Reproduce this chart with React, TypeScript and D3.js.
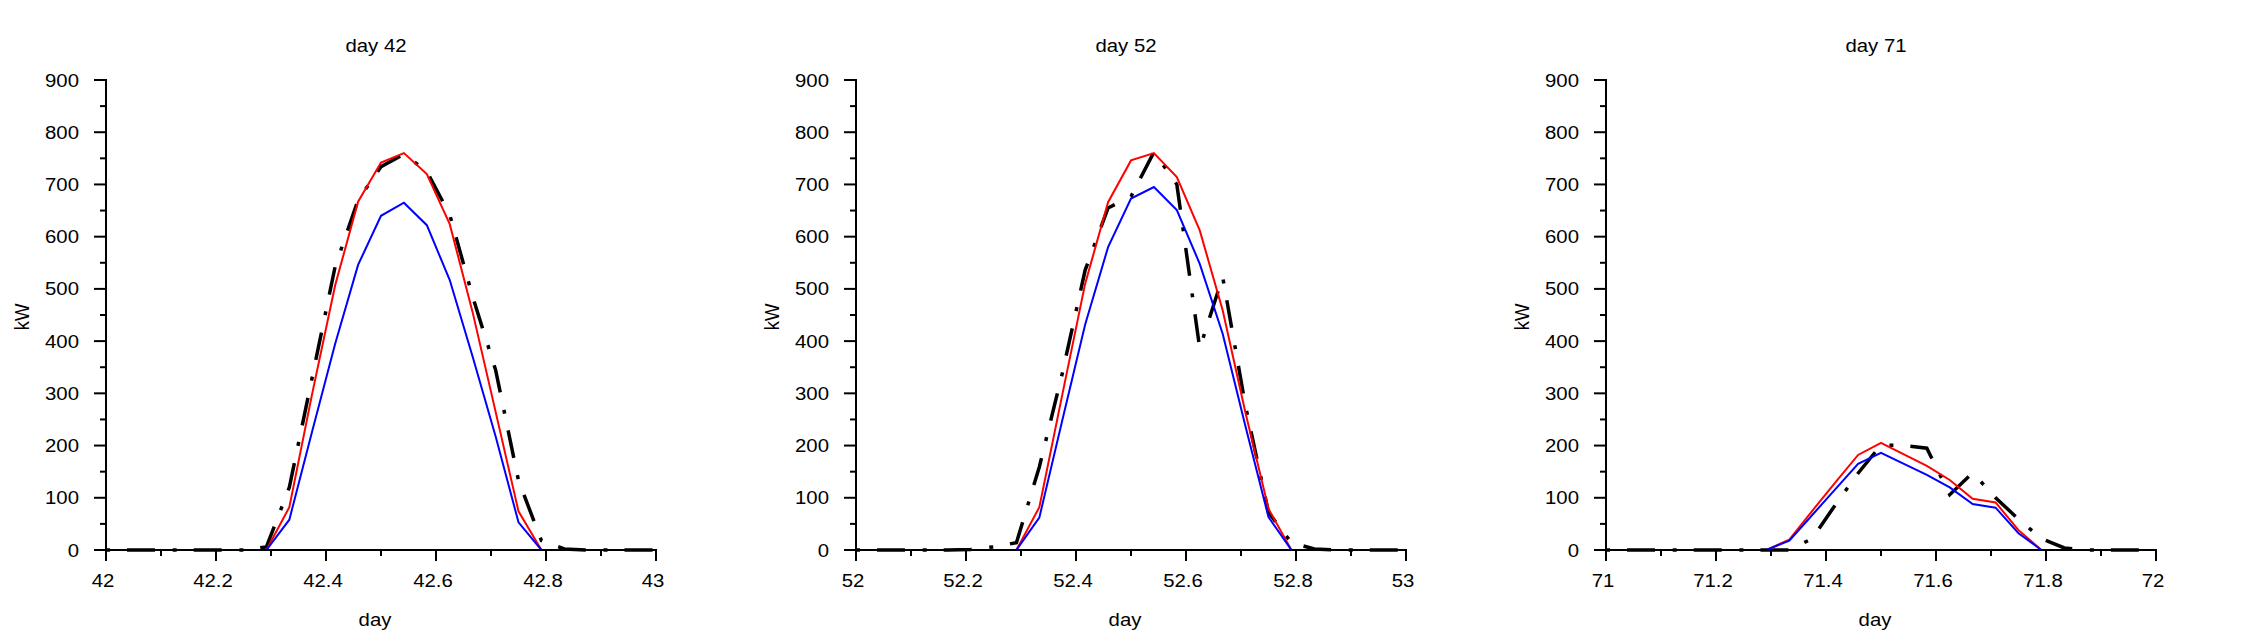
import React from "react";
import * as d3 from "d3";

// Hour of day for each sample (hourly readings, midnight to midnight)
const hourOfDay = [0, 1, 2, 3, 4, 5, 6, 7, 8, 9, 10, 11, 12, 13, 14, 15, 16, 17, 18, 19, 20, 21, 22, 23, 24];

const panelDays = [42, 52, 71];

// Day 42 power series (kW)
const measured42 = [0, 0, 0, 0, 0, 0, 0, 6, 120, 331, 543, 670, 734, 758, 725, 642, 485, 345, 133, 18, 2, 0, 0, 0, 0];
const modelA42 = [0, 0, 0, 0, 0, 0, 0, 0, 82, 300, 507, 667, 742, 760, 720, 624, 455, 265, 74, 0, 0, 0, 0, 0, 0];
const modelB42 = [0, 0, 0, 0, 0, 0, 0, 0, 58, 228, 395, 546, 640, 665, 622, 517, 370, 218, 53, 0, 0, 0, 0, 0, 0];

// Day 52 power series (kW)
const measured52 = [0, 0, 0, 0, 0, 1, 6, 14, 159, 338, 536, 655, 677, 762, 700, 386, 523, 275, 72, 14, 2, 0, 0, 0, 0];
const modelA52 = [0, 0, 0, 0, 0, 0, 0, 0, 82, 297, 510, 666, 746, 760, 714, 612, 459, 262, 79, 0, 0, 0, 0, 0, 0];
const modelB52 = [0, 0, 0, 0, 0, 0, 0, 0, 62, 248, 432, 580, 673, 695, 651, 548, 414, 236, 63, 0, 0, 0, 0, 0, 0];

// Day 71 power series (kW)
const measured71 = [0, 0, 0, 0, 0, 0, 0, 0, 0, 22, 86, 147, 201, 200, 195, 106, 148, 100, 59, 22, 4, 0, 0, 0, 0];
const modelA71 = [0, 0, 0, 0, 0, 0, 0, 0, 20, 75, 129, 182, 205, 183, 161, 134, 98, 91, 38, 0, 0, 0, 0, 0, 0];
const modelB71 = [0, 0, 0, 0, 0, 0, 0, 0, 18, 67, 116, 165, 186, 165, 144, 120, 88, 81, 32, 0, 0, 0, 0, 0, 0];

const measuredByPanel = [measured42, measured52, measured71];
const modelAByPanel = [modelA42, modelA52, modelA71];
const modelBByPanel = [modelB42, modelB52, modelB71];

const yMax = 900;

const W = 2250;
const H = 642;
const panelLeft = [106, 856, 1606];
const plotW = 550;
const plotTop = 80;
const plotBottom = 550;
const FONT = "'Liberation Sans', Arial, Helvetica, sans-serif";
const FS = 18.5;
const SX = 1.1;

function Label({ x, y, anchor = "middle", rotate = false, children }: any) {
  const t = rotate
    ? `translate(${x},${y}) rotate(-90) scale(1,${SX})`
    : `translate(${x},${y}) scale(${SX},1)`;
  return (
    <text transform={t} textAnchor={anchor} fontFamily={FONT} fontSize={FS} fill="#000">
      {children}
    </text>
  );
}

function Panel({ index }: { index: number }) {
  const day = panelDays[index];
  const left = panelLeft[index];
  const x = d3.scaleLinear().domain([day, day + 1]).range([left, left + plotW]);
  const y = d3.scaleLinear().domain([0, yMax]).range([plotBottom, plotTop]);

  const line = d3
    .line<number>()
    .x((_, i) => x(day + hourOfDay[i] / 24))
    .y((v) => y(v));

  const xMajor = x.ticks(5);
  const xMinor = x.ticks(10).filter((t) => !xMajor.some((m) => Math.abs(m - t) < 1e-9));
  const yMajor = y.ticks(9);
  const yMinor = d3.range(50, yMax, 100);
  const fmt = (t: number) => `${+t.toFixed(2)}`;
  const mid = left + 270;

  return (
    <g>
      <Label x={mid} y={52.3}>{`day ${day}`}</Label>

      {/* series: measured (dash-dot), then model A (red), model B (blue) */}
      <path
        d={line(measuredByPanel[index]) || ""}
        fill="none"
        stroke="#000"
        strokeWidth={3.5}
        strokeDasharray="4,17,28,17.7"
      />
      <path d={line(modelAByPanel[index]) || ""} fill="none" stroke="#ff0000" strokeWidth={2} />
      <path d={line(modelBByPanel[index]) || ""} fill="none" stroke="#0000ff" strokeWidth={2} />

      {/* y axis */}
      <line x1={left} x2={left} y1={y(yMax) - 1} y2={plotBottom + 1} stroke="#000" strokeWidth={2} />
      {yMajor.map((t) => (
        <g key={`ym${t}`}>
          <line x1={left - 12} x2={left} y1={y(t)} y2={y(t)} stroke="#000" strokeWidth={2} />
          <Label x={left - 27} y={y(t) + 6.5} anchor="end">
            {fmt(t)}
          </Label>
        </g>
      ))}
      {yMinor.map((t) => (
        <line key={`yn${t}`} x1={left - 6} x2={left} y1={y(t)} y2={y(t)} stroke="#000" strokeWidth={2} />
      ))}
      <Label x={left - 77} y={317} rotate>
        kW
      </Label>

      {/* x axis */}
      <line x1={left - 1} x2={left + plotW + 1} y1={plotBottom} y2={plotBottom} stroke="#000" strokeWidth={2} />
      {xMajor.map((t) => (
        <g key={`xm${t}`}>
          <line x1={x(t)} x2={x(t)} y1={plotBottom} y2={plotBottom + 11} stroke="#000" strokeWidth={2} />
          <Label x={x(t) - 3} y={587}>
            {fmt(t)}
          </Label>
        </g>
      ))}
      {xMinor.map((t) => (
        <line key={`xn${t}`} x1={x(t)} x2={x(t)} y1={plotBottom} y2={plotBottom + 6} stroke="#000" strokeWidth={2} />
      ))}
      <Label x={mid - 1} y={625.5}>day</Label>
    </g>
  );
}

export default function App() {
  return (
    <svg
      width={W}
      height={H}
      viewBox={`0 0 ${W} ${H}`}
      style={{ position: "absolute", left: 0, top: 0, background: "#fff" }}
    >
      <rect x={0} y={0} width={W} height={H} fill="#fff" />
      {panelDays.map((_, i) => (
        <Panel key={i} index={i} />
      ))}
    </svg>
  );
}
